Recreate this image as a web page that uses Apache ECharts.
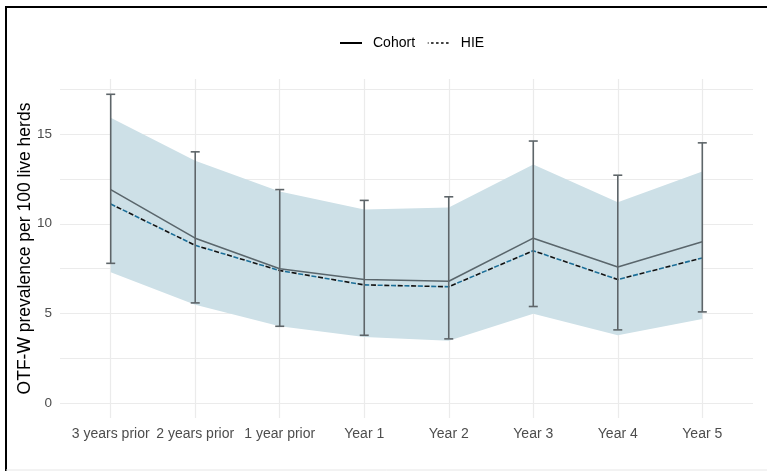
<!DOCTYPE html>
<html>
<head>
<meta charset="utf-8">
<script src="https://cdn.jsdelivr.net/npm/echarts@6/dist/echarts.min.js"></script>
<style>
html,body{margin:0;padding:0;background:#fff;}
#chart{width:767px;height:471px;}
</style>
</head>
<body>
<div id="chart"></div>
<script>
const categories = ['3 years prior','2 years prior','1 year prior','Year 1','Year 2','Year 3','Year 4','Year 5'];
const cohort = [11.9, 9.2, 7.5, 6.9, 6.8, 9.2, 7.6, 9.0];
const cohortLow = [7.8, 5.6, 4.3, 3.8, 3.6, 5.4, 4.1, 5.1];
const cohortHigh = [17.2, 14.0, 11.9, 11.3, 11.5, 14.6, 12.7, 14.5];
const hie = [11.1, 8.8, 7.4, 6.6, 6.5, 8.5, 6.9, 8.1];
const hieLow = [7.3, 5.5, 4.3, 3.7, 3.5, 5.0, 3.8, 4.7];
const hieHigh = [15.9, 13.5, 11.8, 10.8, 10.9, 13.3, 11.2, 12.9];
const yTickLabels = [0, 5, 10, 15];
const yGridValues = [0, 2.5, 5, 7.5, 10, 12.5, 15, 17.5];

const xs = categories.map((c, i) => i + 1);
const pts = arr => arr.map((v, i) => [xs[i], v]);

const chart = echarts.init(document.getElementById('chart'), null, {renderer: 'canvas'});
const font = 'Liberation Sans, Arial, Helvetica, sans-serif';

chart.setOption({
  animation: false,
  backgroundColor: '#fff',
  textStyle: {fontFamily: font},
  graphic: [
    {type: 'line', shape: {x1: 5, y1: 7, x2: 767, y2: 7}, style: {stroke: '#000', lineWidth: 2}, z: 100},
    {type: 'line', shape: {x1: 6, y1: 6, x2: 6, y2: 471}, style: {stroke: '#000', lineWidth: 2}, z: 100},
    {type: 'line', shape: {x1: 6, y1: 470, x2: 767, y2: 470}, style: {stroke: '#e6e6e6', lineWidth: 1}, z: 100}
  ],
  legend: {
    top: 31,
    left: 334,
    itemWidth: 22,
    itemHeight: 14,
    itemGap: 12,
    textStyle: {fontSize: 14, color: '#000', fontFamily: font, padding: [0, 0, 0, 6]},
    data: [
      {name: 'Cohort', lineStyle: {color: '#000', width: 2, type: 'solid'}, itemStyle: {color: 'transparent', borderWidth: 0, opacity: 0}},
      {name: 'HIE', lineStyle: {color: '#000', width: 1.5, type: [2.5, 2.5]}, itemStyle: {color: 'transparent', borderWidth: 0, opacity: 0}}
    ]
  },
  grid: {left: 60, right: 14, top: 79, bottom: 53, containLabel: false},
  xAxis: {
    type: 'value',
    min: 0.4,
    max: 8.6,
    axisLine: {show: false},
    axisTick: {show: false, customValues: xs},
    splitLine: {show: true, lineStyle: {color: '#ebebeb', width: 1.2}},
    axisLabel: {
      customValues: xs,
      formatter: v => categories[Math.round(v) - 1] || '',
      color: '#4d4d4d',
      fontSize: 14,
      margin: 9,
      fontFamily: font
    }
  },
  yAxis: {
    type: 'value',
    min: -0.8,
    max: 18.05,
    name: 'OTF-W prevalence per 100 live herds',
    nameLocation: 'middle',
    nameGap: 26,
    nameMoveOverlap: false,
    nameTextStyle: {fontSize: 17.5, color: '#000', fontFamily: font},
    axisLine: {show: false},
    axisTick: {show: false, customValues: yGridValues},
    splitLine: {show: true, lineStyle: {color: '#ebebeb', width: 1.2}},
    axisLabel: {
      customValues: yTickLabels,
      color: '#4d4d4d',
      fontSize: 13.5,
      margin: 8,
      fontFamily: font
    }
  },
  series: [
    {
      name: 'band',
      type: 'custom',
      silent: true,
      data: [[xs[0], hieLow[0]]],
      z: 1,
      renderItem: function (params, api) {
        const upper = xs.map((x, i) => api.coord([x, hieHigh[i]]));
        const lower = xs.map((x, i) => api.coord([x, hieLow[i]])).reverse();
        return {
          type: 'polygon',
          shape: {points: upper.concat(lower)},
          style: {fill: '#cde0e7'}
        };
      }
    },
    {
      name: 'Cohort',
      type: 'line',
      data: pts(cohort),
      symbol: 'none',
      z: 3,
      lineStyle: {color: '#5a666c', width: 1.6}
    },
    {
      name: 'HIE blue',
      type: 'line',
      data: pts(hie),
      symbol: 'none',
      z: 3,
      lineStyle: {color: '#1b6e98', width: 1.6, type: [5, 8.4], dashOffset: 0}
    },
    {
      name: 'HIE',
      type: 'line',
      data: pts(hie),
      symbol: 'none',
      z: 3,
      lineStyle: {color: '#111', width: 1.6, type: [5, 8.4], dashOffset: 6.7}
    },
    {
      name: 'errorbars',
      type: 'custom',
      silent: true,
      z: 4,
      data: xs.map((x, i) => [x, cohortLow[i], cohortHigh[i]]),
      renderItem: function (params, api) {
        const x = api.value(0);
        const lo = api.coord([x, api.value(1)]);
        const hi = api.coord([x, api.value(2)]);
        const w = 4.5;
        const st = {stroke: '#5e6569', lineWidth: 1.6};
        return {
          type: 'group',
          children: [
            {type: 'line', shape: {x1: lo[0], y1: lo[1], x2: hi[0], y2: hi[1]}, style: st},
            {type: 'line', shape: {x1: lo[0] - w, y1: lo[1], x2: lo[0] + w, y2: lo[1]}, style: st},
            {type: 'line', shape: {x1: hi[0] - w, y1: hi[1], x2: hi[0] + w, y2: hi[1]}, style: st}
          ]
        };
      }
    }
  ]
});
</script>
</body>
</html>
